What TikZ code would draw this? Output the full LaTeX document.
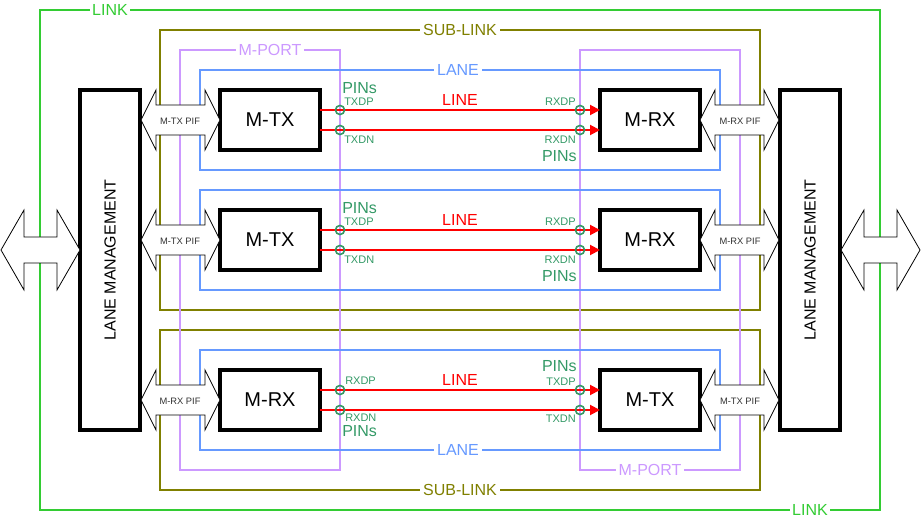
\documentclass[tikz,border=0pt]{standalone}
\usepackage{fontspec}
\setmainfont{Liberation Sans}
\usetikzlibrary{arrows.meta,calc}
\definecolor{linkc}{HTML}{33CC33}
\definecolor{subc}{HTML}{808000}
\definecolor{portc}{HTML}{CC99FF}
\definecolor{lanec}{HTML}{6699FF}
\definecolor{pinc}{HTML}{339966}
\newcommand{\dblarr}[6]{%
  \filldraw[pifarrow] (#1,#3) -- (#1+#6,#3-#4) -- (#1+#6,#3-#5) -- (#2-#6,#3-#5) -- (#2-#6,#3-#4) -- (#2,#3)
   -- (#2-#6,#3+#4) -- (#2-#6,#3+#5) -- (#1+#6,#3+#5) -- (#1+#6,#3+#4) -- cycle;}
\tikzset{
  frame/.style={line width=1.5pt},
  flab/.style={fill=white, inner sep=2pt, font=\fontsize{12}{14}\selectfont},
  box/.style={draw, line width=3pt, minimum width=75pt, minimum height=45pt, inner sep=0pt, outer sep=0pt, font=\fontsize{15}{17}\selectfont},
  lmbox/.style={draw, line width=3pt, minimum width=45pt, minimum height=255pt, inner sep=0pt, outer sep=0pt},
  lmtext/.style={rotate=90, font=\fontsize{12}{14}\selectfont},
  sig/.style={red, line width=1.5pt, -{Triangle[length=7.5pt,width=7.5pt]}},
  pinmark/.style={circle, draw=pinc, line width=1.2pt, minimum size=6.8pt, inner sep=0pt},
  pinlab/.style={text=pinc, inner sep=0pt, font=\fontsize{8.25}{9}\selectfont},
  pinsbig/.style={text=pinc, inner sep=0pt, font=\fontsize{12}{14}\selectfont},
  linelab/.style={text=red, inner sep=0pt, font=\fontsize{12}{14}\selectfont},
  pifarrow/.style={draw=black, fill=white, line width=0.6pt},
  piftext/.style={inner sep=0pt, text=black!80, font=\fontsize{7}{8}\selectfont}
}
\begin{document}
\begin{tikzpicture}[x=0.75pt,y=-0.75pt]
\useasboundingbox (0,0) rectangle (921,520);
% LINK
\draw[frame, linkc] (40,10) rectangle (880,510);
\node[flab, text=linkc] (linkT) at (110,10) {LINK};
\node[flab, text=linkc] (linkB) at (810,510) {LINK};
% SUB-LINKs
\draw[frame, subc] (160,30) rectangle (760,310);
\draw[frame, subc] (160,330) rectangle (760,490);
\node[flab, text=subc] (subT) at (460,30) {SUB-LINK};
\node[flab, text=subc] (subB) at (460,490) {SUB-LINK};
% M-PORTs
\draw[frame, portc] (180,50) rectangle (340,470);
\draw[frame, portc] (580,50) rectangle (740,470);
\node[flab, text=portc] (portT) at (270,50) {M-PORT};
\node[flab, text=portc] (portB) at (650,470) {M-PORT};
% LANEs
\draw[frame, lanec] (200,70) rectangle (720,170);
\draw[frame, lanec] (200,190) rectangle (720,290);
\draw[frame, lanec] (200,350) rectangle (720,450);
\node[flab, text=lanec] (laneT) at (458,70) {LANE};
\node[flab, text=lanec] (laneB) at (458,450) {LANE};
% boxes
\node[box] (l1) at (270,120) {M-TX};
\node[box] (l2) at (270,240) {M-TX};
\node[box] (l3) at (270,400) {M-RX};
\node[box] (r1) at (650,120) {M-RX};
\node[box] (r2) at (650,240) {M-RX};
\node[box] (r3) at (650,400) {M-TX};
% signal lines
\foreach \i in {1,2,3}{
  \draw[sig] ($(l\i.east)+(0,-10)$) -- ($(r\i.west)+(0,-10)$);
  \draw[sig] ($(l\i.east)+(0,10)$) -- ($(r\i.west)+(0,10)$);
}
% pins
\foreach \i/\y in {1/110,2/230,3/390}{
  \node[pinmark] (pa\i) at (340,\y) {};
  \node[pinmark] (pb\i) at (340,\y+20) {};
  \node[pinmark] (pc\i) at (580,\y) {};
  \node[pinmark] (pd\i) at (580,\y+20) {};
}
% row 1 labels
\node[pinsbig, anchor=west] (pins1a) at (342,88) {PINs};
\node[pinlab, anchor=west] (t1a) at (344,102) {TXDP};
\node[pinlab, anchor=west] (t1b) at (344,140) {TXDN};
\node[pinlab, anchor=east] (t1c) at (576,102) {RXDP};
\node[pinlab, anchor=east] (t1d) at (576,140) {RXDN};
\node[pinsbig, anchor=east] (pins1b) at (577,156) {PINs};
\node[linelab] (line1) at (460,100) {LINE};
% row 2 labels
\node[pinsbig, anchor=west] (pins2a) at (342,208) {PINs};
\node[pinlab, anchor=west] (t2a) at (344,222) {TXDP};
\node[pinlab, anchor=west] (t2b) at (344,260) {TXDN};
\node[pinlab, anchor=east] (t2c) at (576,222) {RXDP};
\node[pinlab, anchor=east] (t2d) at (576,260) {RXDN};
\node[pinsbig, anchor=east] (pins2b) at (577,276) {PINs};
\node[linelab] (line2) at (460,220) {LINE};
% row 3 labels
\node[pinlab, anchor=west] (t3a) at (345,381) {RXDP};
\node[pinlab, anchor=west] (t3b) at (345,418) {RXDN};
\node[pinsbig, anchor=west] (pins3a) at (342,431) {PINs};
\node[pinsbig, anchor=east] (pins3b) at (577,366) {PINs};
\node[pinlab, anchor=east] (t3c) at (576,382) {TXDP};
\node[pinlab, anchor=east] (t3d) at (576,419) {TXDN};
\node[linelab] (line3) at (460,380) {LINE};
% lane management
\node[lmbox] (lmL) at (110,260) {};
\node[lmtext] (lmLt) at (lmL) {LANE MANAGEMENT};
\node[lmbox] (lmR) at (810,260) {};
\node[lmtext] (lmRt) at (lmR) {LANE MANAGEMENT};
% PIF arrows
\dblarr{141}{220}{120}{30}{15}{15}
\dblarr{141}{220}{240}{30}{15}{15}
\dblarr{141}{220}{400}{30}{15}{15}
\dblarr{700}{779}{120}{30}{15}{15}
\dblarr{700}{779}{240}{30}{15}{15}
\dblarr{700}{779}{400}{30}{15}{15}
\node[piftext] (pif1) at (180,121) {M-TX PIF};
\node[piftext] (pif2) at (180,241) {M-TX PIF};
\node[piftext] (pif3) at (180,401) {M-RX PIF};
\node[piftext] (pif4) at (740,121) {M-RX PIF};
\node[piftext] (pif5) at (740,241) {M-RX PIF};
\node[piftext] (pif6) at (740,401) {M-TX PIF};
% outer arrows
\dblarr{1}{80}{250}{40}{13}{23}
\dblarr{841}{920}{250}{40}{13}{23}
\end{tikzpicture}
\end{document}
